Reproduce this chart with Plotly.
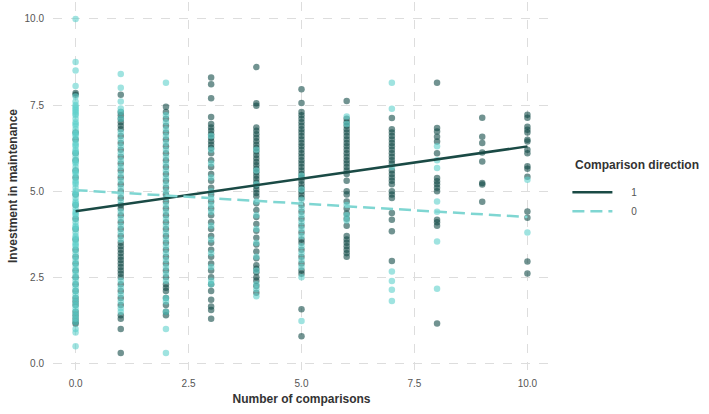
import plotly.graph_objects as go

# ---------------- data ----------------
# Comparison direction = 1 (dark), y values per number of comparisons
dir1 = {
    0: [7.85, 7.8, 6.7, 6.5, 6.1, 5.9, 5.6, 5.4, 4.9, 4.6, 4.2, 3.9, 3.6, 3.3, 3.1, 2.9,
        2.7, 2.5, 2.3, 2.1, 1.9, 1.8, 1.7, 1.5, 1.4, 1.3, 1.2, 1.15],
    1: [7.8, 7.3, 7.2, 7.1, 7.0, 6.9, 6.8, 6.6, 6.4, 6.2, 6.0, 5.8, 5.6, 5.4, 5.2, 5.0,
        4.8, 4.6, 4.5, 4.3, 4.1, 3.9, 3.7, 3.5, 3.4, 3.3, 3.2, 3.1, 3.0, 2.9, 2.8, 2.7,
        2.6, 2.5, 2.3, 2.1, 1.9, 1.7, 1.4, 1.3, 1.0, 0.3],
    2: [7.45, 7.3, 7.1, 6.9, 6.7, 6.5, 6.3, 6.1, 5.9, 5.7, 5.5, 5.3, 5.1, 4.9, 4.7, 4.5,
        4.3, 4.1, 3.9, 3.7, 3.5, 3.3, 3.1, 2.9, 2.7, 2.5, 2.3, 2.2, 2.1, 1.9, 1.7, 1.5, 1.4],
    3: [8.3, 8.1, 7.7, 7.15, 6.95, 6.85, 6.75, 6.65, 6.55, 6.45, 6.35, 6.25, 6.1, 5.9, 5.7,
        5.5, 5.3, 5.1, 4.9, 4.7, 4.5, 4.3, 4.1, 3.9, 3.7, 3.5, 3.3, 3.1, 2.9, 2.7, 2.5,
        2.3, 2.1, 1.85, 1.65, 1.55, 1.3],
    4: [8.6, 7.55, 7.48, 6.85, 6.75, 6.65, 6.55, 6.45, 6.35, 6.25, 6.15, 6.05, 5.95, 5.85,
        5.75, 5.65, 5.55, 5.45, 5.35, 5.25, 5.15, 5.05, 4.95, 4.85, 4.65, 4.45, 4.25,
        4.05, 3.85, 3.65, 3.45, 3.25, 3.05, 2.85, 2.75, 2.65, 2.5, 2.4, 2.25, 2.05],
    5: [7.96, 7.56, 7.3, 7.2, 7.1, 7.0, 6.9, 6.8, 6.7, 6.6, 6.5, 6.4, 6.3, 6.2, 6.1, 6.0,
        5.9, 5.8, 5.7, 5.6, 5.5, 5.4, 5.3, 5.2, 5.1, 5.0, 4.9, 4.8, 4.6, 4.4, 4.2, 4.0,
        3.8, 3.6, 3.5, 3.3, 3.1, 2.9, 2.7, 2.6, 1.57, 0.79],
    6: [7.62, 7.1, 7.0, 6.9, 6.8, 6.7, 6.6, 6.5, 6.4, 6.3, 6.2, 6.1, 6.0, 5.9, 5.8, 5.7,
        5.6, 5.5, 5.3, 5.0, 4.9, 4.7, 4.5, 4.35, 4.2, 4.0, 3.7, 3.6, 3.5, 3.4, 3.3, 3.2, 3.1],
    7: [7.12, 6.8, 6.7, 6.6, 6.5, 6.4, 6.3, 6.2, 6.1, 6.0, 5.9, 5.8, 5.6, 5.5, 5.4, 5.3,
        5.2, 5.0, 4.9, 4.8, 4.37, 4.17, 3.84, 2.97],
    8: [8.15, 6.83, 6.73, 6.58, 6.44, 6.1, 5.38, 5.29, 5.2, 5.1, 5.0, 4.17, 4.1, 4.0, 1.16],
    9: [7.13, 6.58, 6.4, 6.12, 5.86, 5.24, 5.19, 4.69],
    10: [7.22, 7.13, 6.87, 6.78, 6.7, 6.49, 6.44, 6.2, 6.1, 5.72, 5.65, 5.42, 4.41, 4.23,
         2.96, 2.61],
}
# Comparison direction = 0 (light)
dir0 = {
    0: [10.0, 8.75, 8.5, 8.05, 7.75, 7.6, 7.5, 7.45, 7.4, 7.35, 7.3, 7.25, 7.2, 7.1, 7.0,
        6.95, 6.9, 6.8, 6.7, 6.65, 6.6, 6.5, 6.4, 6.35, 6.3, 6.2, 6.15, 6.1, 6.0, 5.9,
        5.85, 5.8, 5.7, 5.6, 5.55, 5.5, 5.4, 5.3, 5.25, 5.2, 5.1, 5.0, 4.95, 4.9, 4.8,
        4.7, 4.65, 4.6, 4.5, 4.4, 4.35, 4.3, 4.2, 4.1, 4.0, 3.95, 3.9, 3.8, 3.7, 3.65,
        3.6, 3.5, 3.45, 3.4, 3.3, 3.2, 3.1, 3.0, 2.9, 2.8, 2.7, 2.6, 2.5, 2.4, 2.3, 2.2,
        2.1, 2.0, 1.9, 1.8, 1.7, 1.6, 1.5, 1.4, 1.3, 1.2, 1.0, 0.9, 0.5],
    1: [8.4, 8.0, 7.6, 7.4, 7.3, 7.1, 6.7, 6.5, 6.3, 6.1, 5.9, 5.7, 5.5, 5.3, 5.1, 4.9,
        4.7, 4.4, 4.2, 4.0, 3.8, 3.6, 2.4, 2.2, 2.0, 1.8, 1.6, 1.5],
    2: [8.15, 7.2, 7.0, 6.8, 6.6, 6.4, 6.2, 6.0, 5.8, 5.6, 5.4, 5.2, 5.0, 4.8, 4.6, 4.4,
        4.2, 4.0, 3.8, 3.6, 3.4, 3.2, 3.0, 2.8, 2.6, 2.4, 1.9, 1.8, 1.5, 1.0, 0.3],
    3: [6.6, 6.2, 5.8, 5.4, 5.0, 4.8, 4.6, 4.4, 4.0, 3.6, 3.2, 2.8, 2.4, 2.3],
    4: [6.2, 5.6, 5.2, 4.7, 4.3, 3.9, 3.5, 3.1, 2.7, 2.3, 2.15, 1.95],
    5: [5.45, 5.05, 4.75, 4.5, 4.3, 4.1, 3.9, 3.7, 3.4, 3.2, 3.0, 2.8, 2.5, 1.23],
    6: [7.17, 6.95, 4.6, 4.3, 4.15],
    7: [8.15, 7.39, 5.7, 2.67, 2.39, 2.14, 1.81],
    8: [6.3, 5.9, 5.67, 4.7, 4.4, 3.54, 2.17],
    9: [],
    10: [5.33, 3.8],
}

# Fitted lines (intercept, slope)
groups = ["1", "0"]
fit_intercept = [4.42, 5.03]
fit_slope = [0.188, -0.078]
x_range_fit = [0, 10]

x_ticks = [0, 2.5, 5, 7.5, 10]
y_ticks = [0, 2.5, 5, 7.5, 10]
tick_text = ["0.0", "2.5", "5.0", "7.5", "10.0"]
legend_title = "Comparison direction"

# ---------------- figure ----------------
DARK = "#134b47"
LIGHT = "#5fd0cb"
LINE_DARK = "#1a4a45"
LINE_LIGHT = "#7fd6d2"


def flatten(d):
    xs, ys = [], []
    for k, vals in d.items():
        for v in vals:
            xs.append(k)
            ys.append(v)
    return xs, ys


fig = go.Figure()
x1, y1 = flatten(dir1)
x0, y0 = flatten(dir0)
fig.add_trace(go.Scatter(x=x1, y=y1, mode="markers", showlegend=False,
                         marker=dict(color=DARK, size=6.5, opacity=0.6, line=dict(width=0)),
                         hoverinfo="skip"))
fig.add_trace(go.Scatter(x=x0, y=y0, mode="markers", showlegend=False,
                         marker=dict(color=LIGHT, size=6.5, opacity=0.6, line=dict(width=0)),
                         hoverinfo="skip"))

line_styles = [dict(color=LINE_DARK, width=2.5, dash="solid"),
               dict(color=LINE_LIGHT, width=2.5, dash="12px,6px")]
PAD = "\u00a0" * 5
for g, a, b, st in zip(groups, fit_intercept, fit_slope, line_styles):
    fig.add_trace(go.Scatter(x=x_range_fit, y=[a + b * x for x in x_range_fit],
                             mode="lines", name=PAD + g, line=st, hoverinfo="skip"))

grid = dict(showgrid=True, gridcolor="#dddddd", gridwidth=1, griddash="dash",
            zeroline=False, showline=False, ticks="")
fig.update_layout(
    width=709, height=414,
    margin=dict(l=53, r=159, t=2, b=44),
    paper_bgcolor="white", plot_bgcolor="white",
    font=dict(family="Liberation Sans, Arial, sans-serif", color="#555555", size=10),
    xaxis=dict(range=[-0.5, 10.5], tickvals=x_ticks, ticktext=tick_text,
               ticklabelstandoff=6,
               title=dict(text="<b>Number of comparisons</b>",
                          font=dict(size=12, color="#333333"), standoff=6),
               **grid),
    yaxis=dict(range=[-0.19, 10.49], tickvals=y_ticks, ticktext=tick_text,
               ticklabelstandoff=8,
               title=dict(text="<b>Investment in maintenance</b>",
                          font=dict(size=12, color="#333333"), standoff=4),
               **grid),
    legend=dict(x=1.035, xanchor="left", y=0.457, yanchor="middle",
                font=dict(size=10, color="#555555"), bgcolor="rgba(0,0,0,0)",
                itemwidth=40),
    annotations=[dict(text="<b>" + legend_title + "</b>", xref="paper", yref="paper",
                      x=1.047, y=0.557, xanchor="left", yanchor="middle",
                      showarrow=False, font=dict(size=12, color="#333333"))],
    hovermode=False,
)

fig.write_html("out.html")
